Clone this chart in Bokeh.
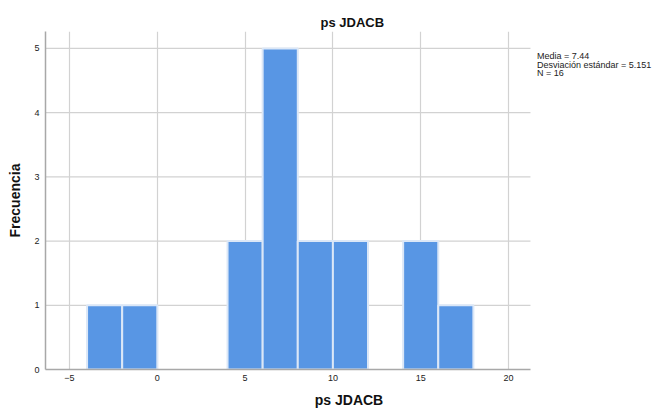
from bokeh.plotting import figure
from bokeh.models import Label, Range1d, FixedTicker
from bokeh.embed import file_html
from bokeh.resources import INLINE

bin_left = [-4, -2, 4, 6, 8, 10, 14, 16]
bin_right = [-2, 0, 6, 8, 10, 12, 16, 18]
counts = [1, 1, 2, 5, 2, 2, 2, 1]
x_ticks = [-5, 0, 5, 10, 15, 20]
y_ticks = [0, 1, 2, 3, 4, 5]
stats = ["Media = 7.44", "Desviación estándar = 5.151", "N = 16"]

X0, X1, XEND = -6.367, 21.25, 28.2
Y1 = 5.264

p = figure(width=652, height=410, output_backend="svg", toolbar_location=None,
           x_range=Range1d(X0, XEND), y_range=Range1d(0, Y1),
           min_border_left=45, min_border_right=0, min_border_top=31,
           min_border_bottom=40)
p.title.text = "ps JDACB"
p.title.align = "left"
p.title.offset = 275
p.title.standoff = 3
p.title.text_font = "Liberation Sans"
p.title.text_font_size = "13px"
p.title.text_font_style = "bold"
p.title.text_color = "#111111"
p.outline_line_color = None

# horizontal grid lines (limited to the plot area, not the stats area)
p.segment(x0=[X0] * (len(y_ticks) - 1), x1=[X1] * (len(y_ticks) - 1),
          y0=y_ticks[1:], y1=y_ticks[1:], line_color="#d2d2d2", line_width=1.2,
          level="underlay")

p.quad(left=bin_left, right=bin_right, bottom=0, top=counts,
       fill_color="#5896e4", line_color="#dbe7f7", line_width=2)

for ax in (p.xaxis, p.yaxis):
    ax.axis_line_color = "#a8a8a8"
    ax.axis_line_width = 1.5
    ax.major_tick_line_color = None
    ax.minor_tick_line_color = None
    ax.major_tick_out = 0
    ax.major_tick_in = 0
    ax.major_label_text_font = "Liberation Sans"
    ax.major_label_text_font_size = "9px"
    ax.major_label_text_color = "#222222"
    ax.axis_label_text_font = "Liberation Sans"
    ax.axis_label_text_font_style = "bold"
    ax.axis_label_text_color = "#111111"
    ax.axis_label_text_font_size = "14px"

p.xaxis.ticker = FixedTicker(ticks=x_ticks)
p.yaxis.ticker = FixedTicker(ticks=y_ticks)
p.xaxis.bounds = (X0, X1)
p.xaxis.axis_label = "ps JDACB"
p.xaxis.major_label_standoff = 5
p.xaxis.axis_label_standoff = 8
p.yaxis.axis_label = "Frecuencia"
p.yaxis.major_label_standoff = 6
p.yaxis.axis_label_standoff = 8

p.xgrid.grid_line_color = "#d2d2d2"
p.xgrid.grid_line_width = 1.2
p.ygrid.grid_line_color = None

ys = [4.876, 4.747, 4.618]
for t, yv in zip(stats, ys):
    p.add_layout(Label(x=21.62, y=yv, text=t, text_font="Liberation Sans",
                       text_font_size="9px", text_baseline="alphabetic",
                       text_color="#222222"))

open("out.html", "w").write(file_html(p, INLINE))
